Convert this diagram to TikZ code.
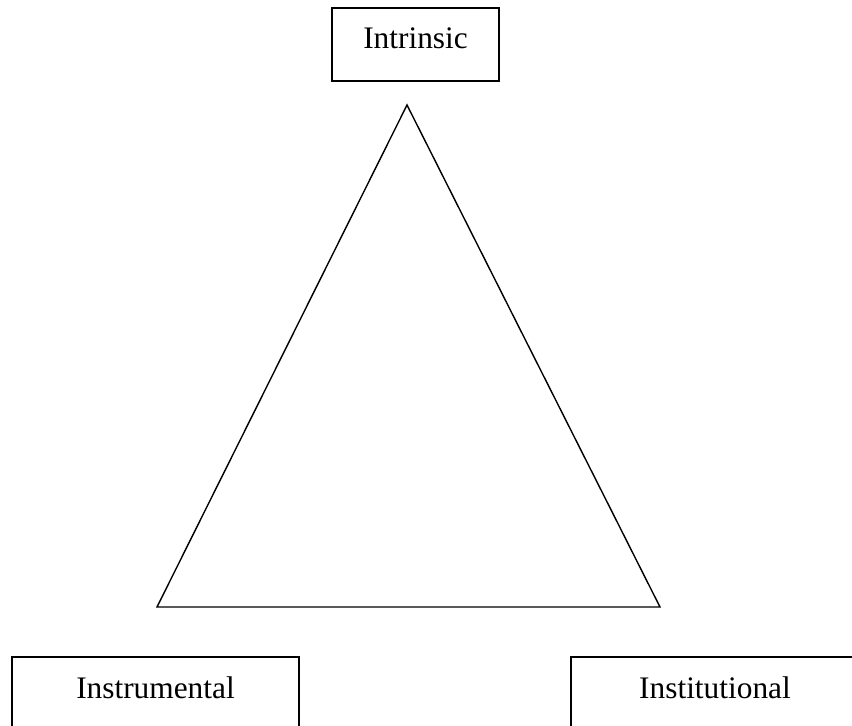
\documentclass[tikz,border=0pt]{standalone}
\usepackage{fontspec}
\setmainfont{Liberation Serif}

\tikzset{
    valuebox/.style={draw, line width=1.4pt, anchor=north, inner sep=0pt,
        text height=1.025cm, text depth=0.8cm, font=\fontsize{22.3}{26}\selectfont},
}

\begin{document}
\begin{tikzpicture}[x=0.025cm, y=-0.025cm]
        \clip (0,0) rectangle (852,725);
        \node[valuebox, minimum width=4.175cm] (intrinsic) at (415.5,7) {Intrinsic};
        \node[valuebox, minimum width=7.175cm] (instrumental) at (155.5,656) {Instrumental};
        \node[valuebox, minimum width=7.175cm] (institutional) at (715,656) {Institutional};
        \coordinate (apex) at (407,105);
        \coordinate (left) at (157,607);
        \coordinate (right) at (660,607);
        \draw[line width=1pt] (apex) -- (left) -- (right) -- cycle;
    \end{tikzpicture}
\end{document}
